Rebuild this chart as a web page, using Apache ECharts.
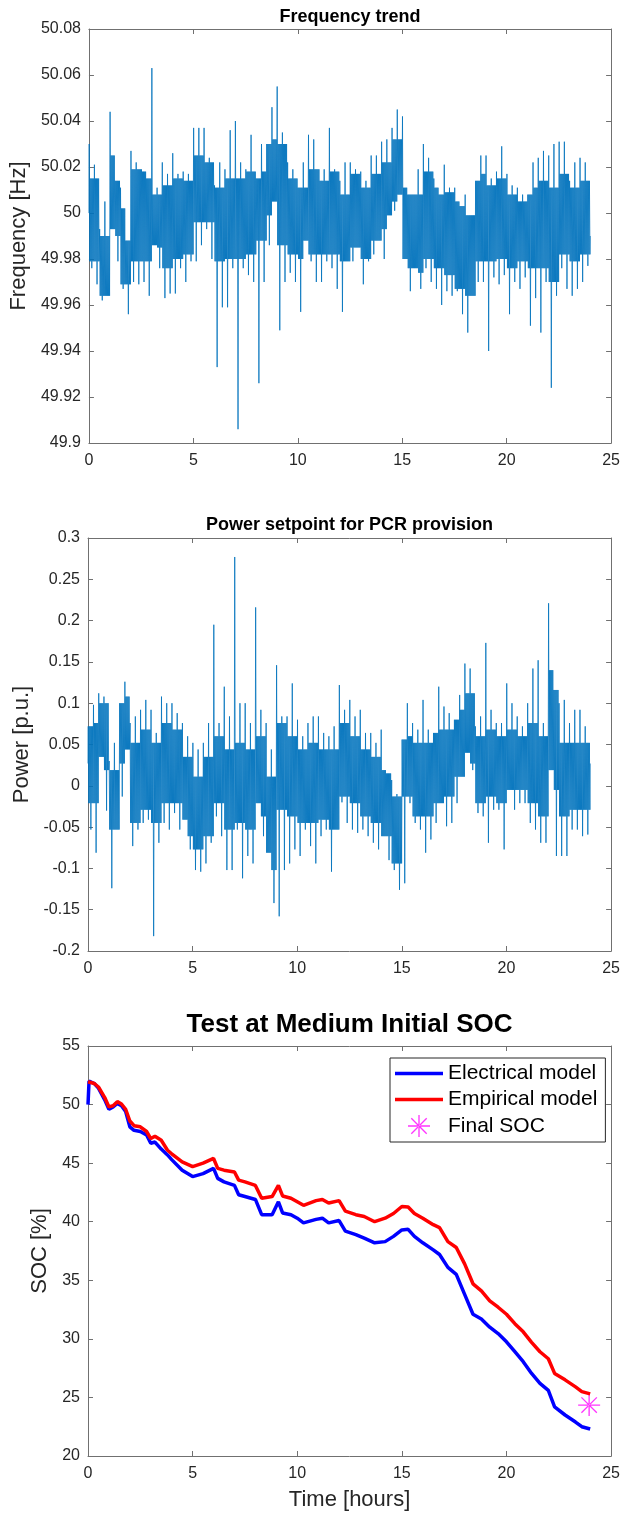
<!DOCTYPE html>
<html lang="en">
<head>
    <meta charset="UTF-8">
    <title>PCR provision - frequency, power and SOC</title>
    <script src="https://cdn.jsdelivr.net/npm/echarts@6/dist/echarts.min.js"></script>
    <style>body{margin:0;background:#fff;}</style>
</head>
<body>
    <div id="main" style="width:623px;height:1516px;"></div>
    <script type="text/javascript">
        // frequency extremes read per 0.25 h slot [Hz]
        var freqHigh = [
            50.030, 50.021, 49.993, 50.005, 50.044, 50.014, 50.011, 49.988,
            50.027, 50.022, 50.019, 50.015, 50.063, 50.011, 50.022, 50.017,
            50.026, 50.017, 50.018, 50.017, 50.037, 50.037, 50.037, 50.024,
            50.012, 50.022, 50.019, 50.036, 50.040, 50.022, 50.019, 50.034,
            50.015, 50.030, 50.030, 50.046, 50.055, 50.035, 50.022, 50.019,
            50.011, 50.022, 50.034, 50.032, 50.019, 50.019, 50.037, 50.019,
            50.014, 50.022, 50.022, 50.019, 50.018, 50.014, 50.025, 50.025,
            50.031, 50.032, 50.037, 50.045, 50.042, 50.008, 50.008, 50.019,
            50.030, 50.024, 50.015, 50.008, 50.021, 50.011, 50.011, 50.003,
            50.008, 49.999, 50.014, 50.025, 50.025, 50.015, 50.018, 50.029,
            50.017, 50.012, 50.011, 50.008, 50.008, 50.022, 50.024, 50.027,
            50.025, 50.030, 50.031, 50.031, 50.014, 50.022, 50.024, 50.022
        ];
        var freqLow = [
            49.976, 49.969, 49.962, 49.964, 49.993, 49.979, 49.967, 49.956,
            49.970, 49.969, 49.970, 49.964, 49.986, 49.976, 49.963, 49.965,
            49.965, 49.976, 49.970, 49.979, 49.979, 49.986, 49.993, 49.980,
            49.933, 49.959, 49.959, 49.976, 49.906, 49.976, 49.973, 49.970,
            49.926, 49.970, 49.986, 50.005, 49.949, 49.970, 49.974, 49.970,
            49.957, 49.988, 49.979, 49.970, 49.970, 49.979, 49.976, 49.967,
            49.957, 49.979, 49.979, 49.985, 49.969, 49.979, 49.982, 49.988,
            49.980, 49.999, 50.001, 50.008, 49.980, 49.966, 49.976, 49.967,
            49.976, 49.970, 49.967, 49.960, 49.966, 49.964, 49.966, 49.956,
            49.948, 49.964, 49.970, 49.970, 49.940, 49.972, 49.969, 49.973,
            49.956, 49.970, 49.967, 49.972, 49.951, 49.963, 49.948, 49.970,
            49.924, 49.964, 49.976, 49.967, 49.964, 49.967, 49.970, 49.977
        ];
        // dense core of the frequency band, read per 0.5 h [Hz]
        var freqCoreHigh = [
            50.015, 49.990, 50.025, 50.002, 50.019, 50.018, 50.008, 50.012,
            50.015, 50.014, 50.025, 50.022, 50.011, 50.015, 50.015, 50.018,
            50.018, 50.032, 50.030, 50.015, 50.011, 50.019, 50.014, 50.018,
            50.008, 50.017, 50.011, 50.017, 50.022, 50.032, 50.011, 50.008,
            50.018, 50.011, 50.009, 50.005, 49.999, 50.017, 50.012, 50.015,
            50.008, 50.005, 50.011, 50.014, 50.011, 50.017, 50.011, 50.014
        ];
        var freqCoreLow = [
            49.979, 49.964, 49.990, 49.969, 49.979, 49.979, 49.985, 49.976,
            49.980, 49.982, 49.996, 49.996, 49.979, 49.980, 49.980, 49.982,
            49.988, 49.999, 49.986, 49.982, 49.980, 49.982, 49.982, 49.982,
            49.979, 49.985, 49.980, 49.988, 49.993, 50.005, 49.976, 49.974,
            49.980, 49.976, 49.973, 49.967, 49.964, 49.979, 49.979, 49.980,
            49.976, 49.979, 49.976, 49.976, 49.970, 49.982, 49.979, 49.982
        ];
        var freqStart = 50.000, freqEnd = 49.990;

        // power setpoint extremes per 0.25 h slot [p.u.]
        var powerHigh = [
            0.072, 0.098, 0.112, 0.108, 0.030, 0.052, 0.100, 0.126,
            0.076, 0.084, 0.092, 0.104, 0.092, 0.064, 0.108, 0.100,
            0.100, 0.088, 0.076, 0.060, 0.052, 0.044, 0.052, 0.076,
            0.195, 0.076, 0.120, 0.084, 0.277, 0.100, 0.100, 0.076,
            0.216, 0.092, 0.076, 0.044, 0.146, 0.084, 0.084, 0.124,
            0.080, 0.060, 0.076, 0.084, 0.084, 0.064, 0.060, 0.072,
            0.122, 0.092, 0.104, 0.084, 0.092, 0.064, 0.064, 0.052,
            0.068, 0.015, 0.007, -0.010, 0.056, 0.100, 0.076, 0.068,
            0.104, 0.068, 0.064, 0.120, 0.096, 0.088, 0.080, 0.110,
            0.148, 0.142, 0.072, 0.084, 0.173, 0.092, 0.076, 0.076,
            0.124, 0.100, 0.084, 0.072, 0.100, 0.142, 0.152, 0.076,
            0.221, 0.116, 0.100, 0.104, 0.076, 0.092, 0.092, 0.072
        ];
        var powerLow = [
            -0.053, -0.081, 0.035, -0.030, -0.124, -0.053, -0.013, 0.044,
            -0.073, -0.053, -0.045, -0.041, -0.182, -0.069, -0.045, -0.053,
            -0.033, -0.053, -0.041, -0.077, -0.102, -0.104, -0.094, -0.069,
            -0.037, -0.061, -0.102, -0.102, -0.053, -0.112, -0.085, -0.094,
            -0.021, -0.061, -0.081, -0.142, -0.158, -0.102, -0.094, -0.077,
            -0.085, -0.053, -0.073, -0.094, -0.061, -0.053, -0.104, -0.053,
            -0.020, -0.045, -0.053, -0.057, -0.053, -0.061, -0.069, -0.077,
            -0.061, -0.090, -0.102, -0.126, -0.118, -0.021, -0.045, -0.053,
            -0.081, -0.065, -0.045, -0.021, -0.049, -0.045, -0.021, 0.011,
            0.040, 0.019, -0.033, -0.037, -0.069, -0.029, -0.029, -0.077,
            -0.005, -0.029, -0.021, -0.021, -0.045, -0.053, -0.069, -0.069,
            0.019, -0.085, -0.085, -0.085, -0.053, -0.053, -0.061, -0.059
        ];
        // dense core of the power band, read per 0.5 h [p.u.]
        var powerCoreHigh = [
            0.076, 0.100, 0.019, 0.108, 0.052, 0.068, 0.052, 0.076,
            0.068, 0.035, 0.011, 0.035, 0.060, 0.044, 0.052, 0.044,
            0.060, 0.011, 0.076, 0.060, 0.044, 0.052, 0.044, 0.044,
            0.076, 0.060, 0.044, 0.035, 0.019, -0.013, 0.060, 0.052,
            0.052, 0.068, 0.068, 0.092, 0.112, 0.060, 0.068, 0.060,
            0.068, 0.060, 0.076, 0.060, 0.140, 0.052, 0.052, 0.052
        ];
        var powerCoreLow = [
            -0.021, 0.019, -0.053, 0.027, -0.045, -0.029, -0.045, -0.021,
            -0.021, -0.061, -0.077, -0.061, -0.021, -0.053, -0.045, -0.053,
            -0.037, -0.102, -0.029, -0.037, -0.045, -0.045, -0.041, -0.053,
            -0.013, -0.021, -0.037, -0.045, -0.061, -0.094, -0.013, -0.037,
            -0.037, -0.021, -0.013, 0.011, 0.027, -0.021, -0.013, -0.021,
            -0.005, -0.005, -0.021, -0.037, -0.005, -0.037, -0.029, -0.029
        ];
        var powerStart = 0.027, powerEnd = 0.027;

        // SOC test at medium initial SOC
        var socTime = [0, 0.05, 0.3, 0.5, 0.8, 1.0, 1.2, 1.4, 1.6, 1.8, 2.0, 2.2, 2.5, 2.8, 3.0, 3.2, 3.5, 3.8, 4.0, 4.5,
            5.0, 5.5, 6.0, 6.2, 6.5, 7.0, 7.2, 7.5, 8.0, 8.3, 8.8, 9.1, 9.3, 9.7, 10.0, 10.3, 10.9, 11.2, 11.5,
            12.0, 12.3, 12.8, 13.2, 13.7, 14.2, 14.6, 15.0, 15.3, 15.6, 16.0, 16.5, 16.8, 17.2, 17.6, 18.0, 18.4,
            18.8, 19.2, 19.6, 20.0, 20.4, 20.8, 21.2, 21.6, 22.0, 22.3, 22.8, 23.3, 23.6, 24.0];
        var socElectrical = [50.0, 52.0, 51.8, 51.4, 50.4, 49.6, 49.8, 50.1, 49.9, 49.4, 48.1, 47.8, 47.7, 47.4, 46.7, 46.8, 46.2, 45.7, 45.3, 44.4,
            43.85, 44.1, 44.55, 43.7, 43.4, 43.1, 42.3, 42.15, 41.9, 40.6, 40.6, 41.7, 40.75, 40.6, 40.3, 39.9, 40.2, 40.3, 39.9,
            40.1, 39.2, 38.9, 38.6, 38.2, 38.3, 38.75, 39.3, 39.35, 38.75, 38.2, 37.6, 37.2, 36.1, 35.5, 33.8, 32.1,
            31.7, 31.0, 30.45, 29.75, 28.9, 28.05, 27.05, 26.2, 25.6, 24.2, 23.5, 22.9, 22.5, 22.3];
        var socEmpirical = [51.95, 51.95, 51.8, 51.5, 50.6, 49.8, 49.9, 50.25, 50.05, 49.6, 48.6, 48.2, 48.1, 47.7, 47.1, 47.3, 46.95, 46.1, 45.8, 45.1,
            44.7, 45.0, 45.4, 44.55, 44.4, 44.25, 43.55, 43.4, 43.1, 42.0, 42.15, 43.1, 42.2, 42.0, 41.7, 41.4, 41.8, 41.9, 41.6,
            41.8, 40.9, 40.6, 40.45, 40.0, 40.3, 40.7, 41.3, 41.25, 40.7, 40.3, 39.75, 39.5, 38.3, 37.8, 36.4, 34.7,
            34.1, 33.25, 32.7, 32.1, 31.3, 30.6, 29.7, 28.9, 28.3, 27.05, 26.5, 25.9, 25.5, 25.3];
        var finalTime = 23.95, finalSoc = 24.35;

        var xTicks = [0, 25, 5];
        var slot = 0.25;
        var font = "'Liberation Sans', Arial, Helvetica, sans-serif";
        var frameColor = '#707070';
        var textColor = '#262626';

        // walk through each slot: spike up, dense core, spike down, dense core
        function bandPoints(high, low, coreHigh, coreLow, first, last) {
            var pts = [[0, first]];
            for (var i = 0; i < high.length; i++) {
                var c = Math.floor(i / 2);
                var ch = Math.min(coreHigh[c], high[i]);
                var cl = Math.max(coreLow[c], low[i]);
                var seq = [high[i], cl, ch, cl, ch, low[i], ch, cl, ch, cl];
                for (var k = 0; k < seq.length; k++) {
                    pts.push([i * slot + (k + 0.5) * slot / seq.length, seq[k]]);
                }
            }
            pts.push([24, last]);
            return pts;
        }
        function pairs(xs, ys) {
            return xs.map(function (x, i) { return [x, ys[i]]; });
        }
        function trim(v) { return String(parseFloat(v.toFixed(2))); }

        var grids = [
            {left: 88, top: 29, width: 527, height: 414},
            {left: 88, top: 538, width: 527, height: 413},
            {left: 88, top: 1046, width: 528, height: 410}
        ];

        var lineAxis = {show: true, onZero: false, lineStyle: {color: frameColor, width: 1}};
        var tick = {show: true, inside: true, length: 5, lineStyle: {color: frameColor}};

        function xAxes(g, title, titleSize, titleGap, xName) {
            return [{
                type: 'value', gridIndex: g, position: 'bottom',
                min: xTicks[0], max: xTicks[1], interval: xTicks[2],
                axisLine: lineAxis, axisTick: tick, splitLine: {show: false},
                axisLabel: {fontSize: 16, color: textColor, fontFamily: font, margin: 10},
                name: xName || '', nameLocation: 'middle', nameGap: 33,
                nameTextStyle: {fontSize: 22, color: textColor, fontFamily: font}
            }, {
                type: 'value', gridIndex: g, position: 'top',
                min: xTicks[0], max: xTicks[1], interval: xTicks[2],
                axisLine: lineAxis, axisTick: tick, splitLine: {show: false},
                axisLabel: {show: false},
                name: title, nameLocation: 'middle', nameGap: titleGap,
                nameTextStyle: {fontSize: titleSize, fontWeight: 'bold', color: '#000', fontFamily: font}
            }];
        }
        function yAxes(g, min, max, interval, name, nameGap) {
            return [{
                type: 'value', gridIndex: g, position: 'left',
                min: min, max: max, interval: interval,
                axisLine: lineAxis, axisTick: tick, splitLine: {show: false},
                axisLabel: {fontSize: 16, color: textColor, fontFamily: font, margin: 8, formatter: trim},
                name: name, nameLocation: 'middle', nameGap: nameGap, nameRotate: 90,
                nameTextStyle: {fontSize: 22, color: textColor, fontFamily: font}
            }, {
                type: 'value', gridIndex: g, position: 'right',
                min: min, max: max, interval: interval,
                axisLine: lineAxis, axisTick: tick, splitLine: {show: false},
                axisLabel: {show: false}
            }];
        }

        var star = 'path://M-0.6,-10L0.6,-10L0.6,10L-0.6,10Z' +
            'M-10,-0.6L10,-0.6L10,0.6L-10,0.6Z' +
            'M-6.58,-7.42L7.42,6.58L6.58,7.42L-7.42,-6.58Z' +
            'M-6.58,7.42L7.42,-6.58L6.58,-7.42L-7.42,6.58Z';
        var lineIcon = 'path://M0,0L48,0L48,3.5L0,3.5Z';

        var myChart = echarts.init(document.getElementById('main'));
        myChart.setOption({
            animation: false,
            backgroundColor: '#fff',
            textStyle: {fontFamily: font},
            grid: grids,
            xAxis: [].concat(
                xAxes(0, 'Frequency trend', 18, 3),
                xAxes(1, 'Power setpoint for PCR provision', 18, 4),
                xAxes(2, 'Test at Medium Initial SOC', 26, 8, 'Time [hours]')
            ),
            yAxis: [].concat(
                yAxes(0, 49.9, 50.08, 0.02, 'Frequency [Hz]', 51),
                yAxes(1, -0.2, 0.3, 0.05, 'Power [p.u.]', 40),
                yAxes(2, 20, 55, 5, 'SOC [%]', 21)
            ),
            legend: {
                data: [
                    {name: 'Electrical model', icon: lineIcon},
                    {name: 'Empirical model', icon: lineIcon},
                    {name: 'Final SOC', icon: star}
                ],
                orient: 'vertical', left: 390, top: 1058,
                itemWidth: 48, itemHeight: 22, itemGap: 5,
                symbolKeepAspect: true,
                padding: [5, 8, 5, 5],
                borderColor: '#262626', borderWidth: 1, backgroundColor: '#fff',
                textStyle: {fontSize: 21, color: '#000', fontFamily: font}
            },
            series: [{
                name: 'Frequency', type: 'line', xAxisIndex: 0, yAxisIndex: 0,
                data: bandPoints(freqHigh, freqLow, freqCoreHigh, freqCoreLow, freqStart, freqEnd),
                showSymbol: false, symbol: 'none',
                lineStyle: {color: '#0072BD', width: 0.8}
            }, {
                name: 'Power', type: 'line', xAxisIndex: 2, yAxisIndex: 2,
                data: bandPoints(powerHigh, powerLow, powerCoreHigh, powerCoreLow, powerStart, powerEnd),
                showSymbol: false, symbol: 'none',
                lineStyle: {color: '#0072BD', width: 0.8}
            }, {
                name: 'Electrical model', type: 'line', xAxisIndex: 4, yAxisIndex: 4,
                data: pairs(socTime, socElectrical),
                symbol: 'none', showSymbol: false, color: '#0000ff',
                lineStyle: {color: '#0000ff', width: 3.5}
            }, {
                name: 'Empirical model', type: 'line', xAxisIndex: 4, yAxisIndex: 4,
                data: pairs(socTime, socEmpirical),
                symbol: 'none', showSymbol: false, color: '#ff0000',
                lineStyle: {color: '#ff0000', width: 3.5}
            }, {
                name: 'Final SOC', type: 'scatter', xAxisIndex: 4, yAxisIndex: 4,
                data: [[finalTime, finalSoc]],
                symbol: star, symbolSize: 22, symbolKeepAspect: true,
                itemStyle: {color: '#ff00ff'}
            }]
        });
    </script>
</body>
</html>
